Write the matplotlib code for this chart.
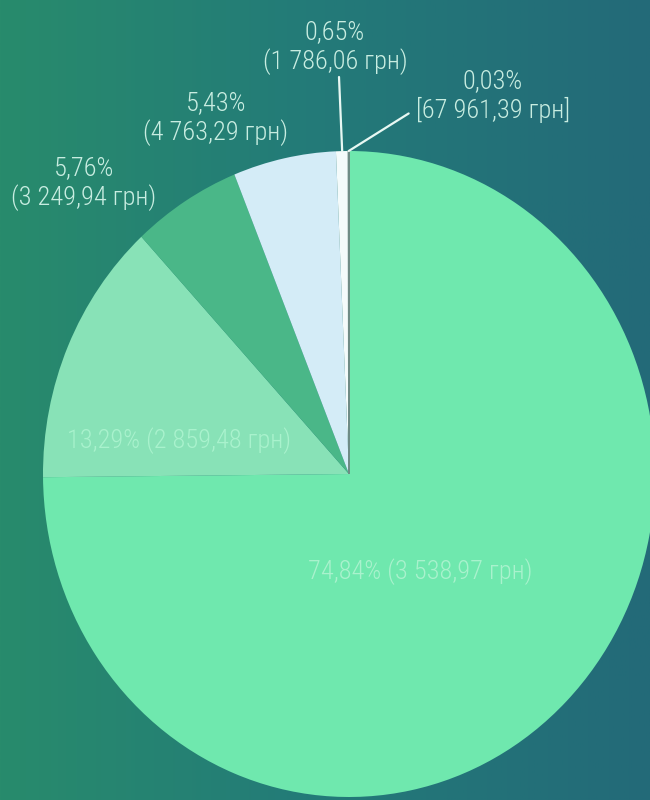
import numpy as np
import matplotlib.pyplot as plt
from matplotlib.colors import LinearSegmentedColormap

plt.rcParams["font.family"] = ["Roboto Condensed", "Roboto", "DejaVu Sans"]

# slice data, clockwise from 12 o'clock
shares = [74.84, 13.29, 5.76, 5.43, 0.65, 0.03]
pct_labels = ["74,84%", "13,29%", "5,76%", "5,43%", "0,65%", "0,03%"]
sum_labels = ["(3 538,97 грн)", "(2 859,48 грн)", "(3 249,94 грн)",
              "(4 763,29 грн)", "(1 786,06 грн)", "[67 961,39 грн]"]
colors = ["#6fe8ae", "#88e2b7", "#4ab788", "#d4ecf7", "#f4fbfb", "#6f8c86"]

W, H = 650, 800
fig = plt.figure(figsize=(W / 100, H / 100), dpi=100)

# background gradient
bg = fig.add_axes([0, 0, 1, 1])
bg.axis("off")
cmap = LinearSegmentedColormap.from_list("bg", ["#288b6c", "#237a79", "#236a78"])
grad = np.linspace(0, 1, 256)[None, :].repeat(2, axis=0)
bg.imshow(grad, cmap=cmap, aspect="auto", extent=[0, 1, 0, 1])

ax = fig.add_axes([0, 0, 1, 1])
ax.axis("off")
wedges, _ = ax.pie(shares, colors=colors, startangle=90, counterclock=False,
                   wedgeprops=dict(linewidth=0))
wedges[5].set_edgecolor("#6f8c86")
wedges[5].set_linewidth(1.2)

# pie centre at (349, 474) px from top, radii 306 x 323 px
cx, cy, rx, ry = 349, 474, 306, 323
ax.set_aspect("auto")
ax.set_xlim(-cx / rx, (W - cx) / rx)
ax.set_ylim(-(H - cy) / ry, cy / ry)


def edge_point(w, frac):
    a = np.deg2rad(w.theta1 + (w.theta2 - w.theta1) * frac)
    return np.cos(a), np.sin(a)


out_color = "#c8ede1"
in_color = "#a9f2cd"
fs = 19

# labels outside the pie (pixel positions measured from the top)
outside = {2: (84, 184), 3: (216, 119), 4: (335, 48), 5: (493, 96)}
for i, (x, y) in outside.items():
    fig.text(x / W, 1 - y / H, pct_labels[i] + "\n" + sum_labels[i],
             ha="center", va="center", color=out_color, fontsize=fs,
             fontweight="light", linespacing=1.2)

# leader lines
ax.annotate("", xy=edge_point(wedges[4], 0.5), xycoords="data",
            xytext=(339 / W, 1 - 77 / H), textcoords="figure fraction",
            arrowprops=dict(arrowstyle="-", color="#e8f8f3", lw=1.6,
                            shrinkA=0, shrinkB=0))
ax.annotate("", xy=edge_point(wedges[5], 0.5), xycoords="data",
            xytext=(411 / W, 1 - 112 / H), textcoords="figure fraction",
            arrowprops=dict(arrowstyle="-", color="#e8f8f3", lw=1.6,
                            shrinkA=2, shrinkB=0))

# labels inside the pie
inside = {0: (420, 572), 1: (179, 441)}
for i, (x, y) in inside.items():
    fig.text(x / W, 1 - y / H, pct_labels[i] + " " + sum_labels[i],
             ha="center", va="center", color=in_color, fontsize=fs,
             fontweight="light")

fig.savefig("out.png", dpi=100)
